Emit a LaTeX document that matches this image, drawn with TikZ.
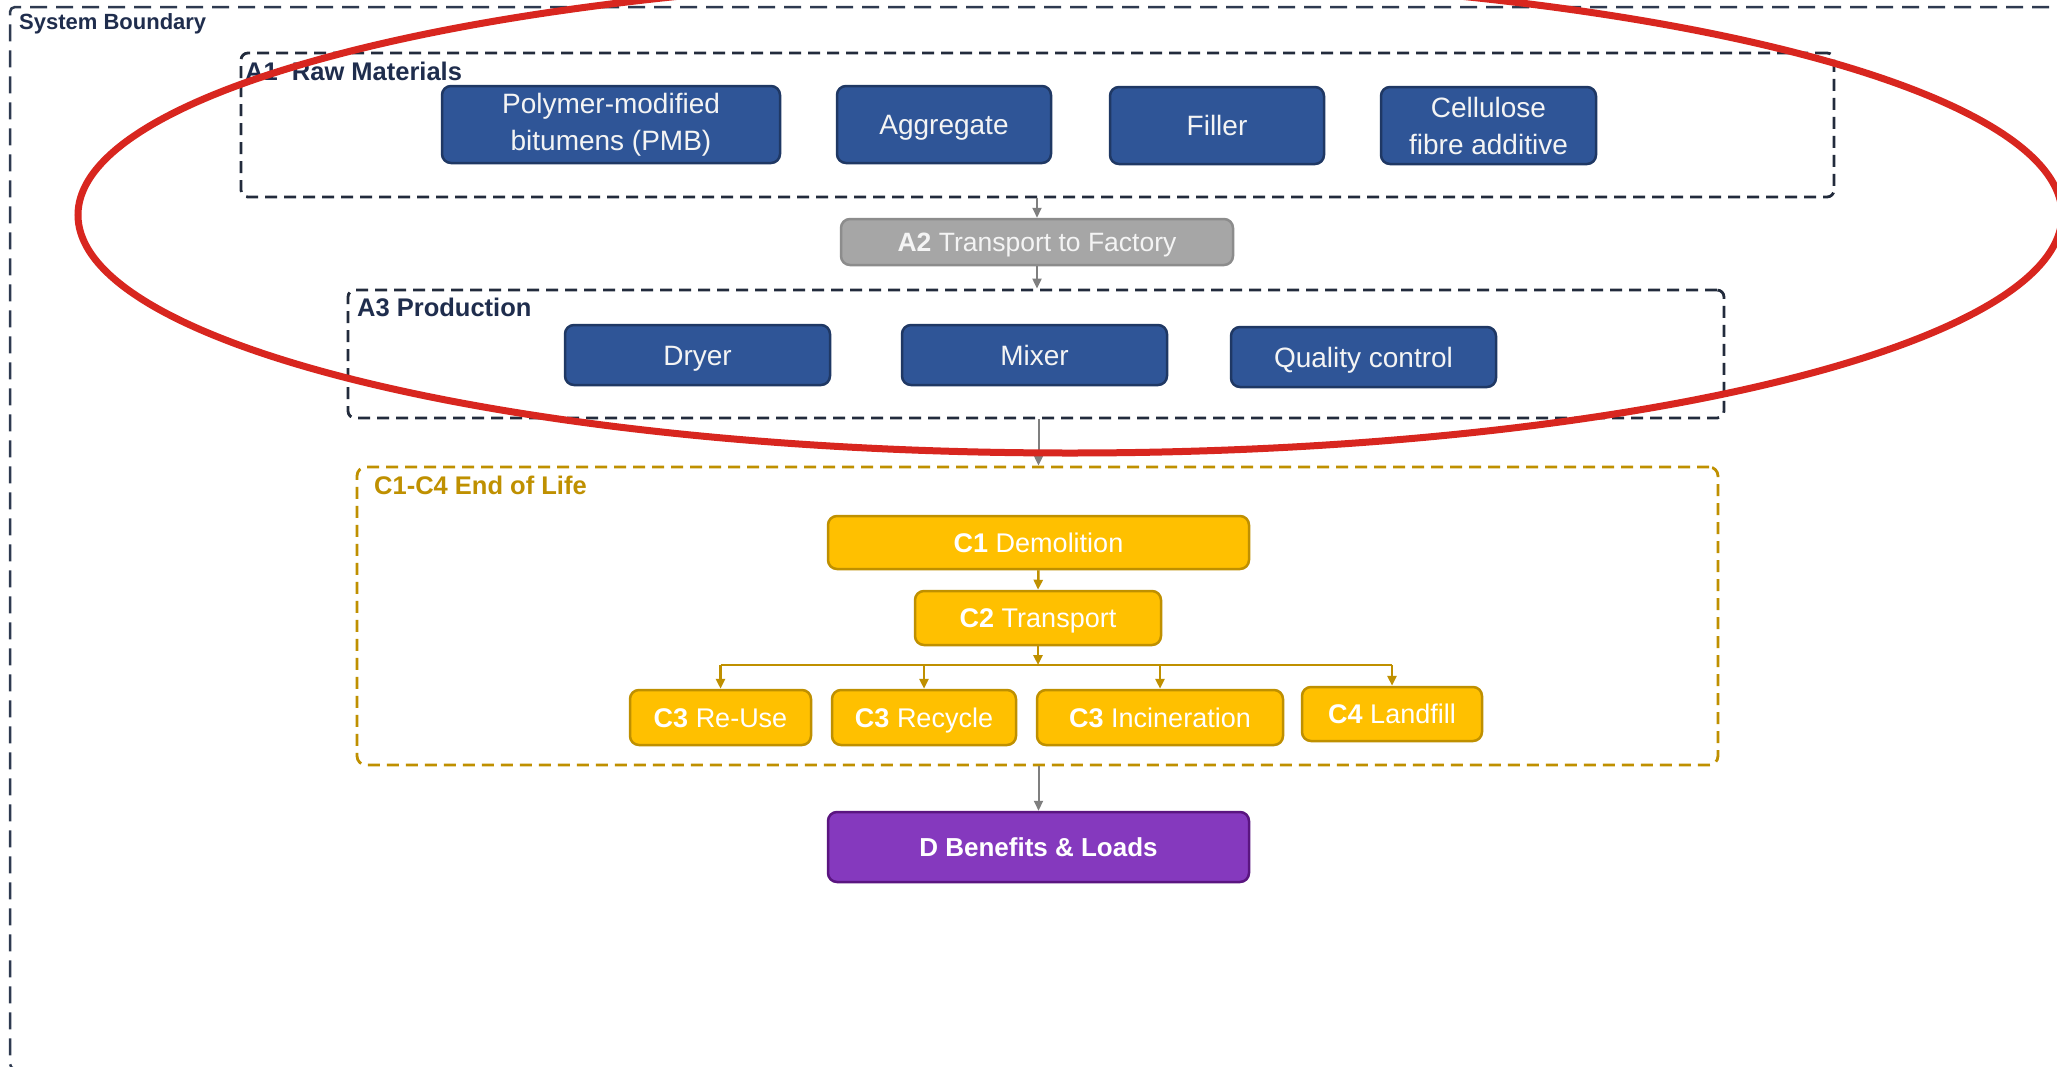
\documentclass[tikz,border=0pt]{standalone}
\usepackage{fontspec}
\setmainfont{Liberation Sans}
\usetikzlibrary{arrows.meta,calc}
\definecolor{navy}{HTML}{2F5597}
\definecolor{navyedge}{HTML}{1F3864}
\definecolor{slate}{HTML}{222B3C}
\definecolor{sbcol}{HTML}{2E3A50}
\definecolor{labnavy}{HTML}{1F2D4D}
\definecolor{gold}{HTML}{BF9000}
\definecolor{amber}{HTML}{FFC000}
\definecolor{gfill}{HTML}{A6A6A6}
\definecolor{gedge}{HTML}{8C8C8C}
\definecolor{garr}{HTML}{7F7F7F}
\definecolor{purp}{HTML}{8539BE}
\definecolor{purpedge}{HTML}{5A1580}
\definecolor{redring}{HTML}{D8261F}
\definecolor{offwhite}{HTML}{F4F4F4}
\begin{document}
\begin{tikzpicture}[x=1pt,y=-1pt,
  box/.style={rounded corners=9pt, line width=2.5pt, inner sep=0pt, align=center,
    font=\fontsize{28}{37}\selectfont},
  oneline/.style={text height=#1, text depth=0pt},
  bluebox/.style={box, fill=navy, draw=navyedge, text=offwhite},
  graybox/.style={box, fill=gfill, draw=gedge, text=offwhite, font=\fontsize{26.5}{32}\selectfont, oneline=19pt},
  ybox/.style={box, fill=amber, draw=gold, text=white, font=\fontsize{27}{32}\selectfont, oneline=19.3pt},
  pbox/.style={box, fill=purp, draw=purpedge, text=white, font=\bfseries\fontsize{26}{32}\selectfont, oneline=18.7pt},
  grp/.style={draw=slate, line width=2.8pt, dash pattern=on 12pt off 7pt, rounded corners=7pt, inner sep=0pt},
  ygrp/.style={draw=gold, line width=2.8pt, dash pattern=on 12pt off 7pt, rounded corners=9pt, inner sep=0pt},
  grplabel/.style={anchor=base west, inner sep=0pt, text=labnavy, font=\bfseries\fontsize{25.5}{30}\selectfont},
  garrow/.style={draw=garr, line width=2pt, -{Triangle[length=10pt,width=9pt]}},
  yarrow/.style={draw=gold, line width=2.5pt, -{Triangle[length=10pt,width=9pt]}},
  yline/.style={draw=gold, line width=2.5pt}
]
\useasboundingbox (0,0) rectangle (2057,1066);
\clip (0,0) rectangle (2057,1066);
\fill[white] (0,0) rectangle (2057,1066);

% system boundary
\node[draw=sbcol, line width=2.5pt, dash pattern=on 17pt off 9pt, rounded corners=5pt,
  minimum width=2070pt, minimum height=1062pt, inner sep=0pt] (sb) at (1045,538) {};
\node[anchor=base west, inner sep=0pt, text=labnavy, font=\bfseries\fontsize{22}{26}\selectfont]
  (sblab) at (19,29) {System Boundary};

% A1
\node[grp, minimum width=1593pt, minimum height=144pt] (A1) at (1037.5,125) {};
\node[grplabel] (A1lab) at (245,80) {A1\ \ Raw Materials};
\node[bluebox, minimum width=338pt, minimum height=77pt] (pmb) at (611,124.5) {Polymer-modified\\bitumens (PMB)};
\node[bluebox, oneline=20pt, minimum width=214pt, minimum height=77pt] (agg) at (944,124.5) {Aggregate};
\node[bluebox, oneline=20pt, minimum width=214pt, minimum height=77pt] (fil) at (1217,125.5) {Filler};
\node[bluebox, minimum width=215pt, minimum height=77pt] (cel) at (1488.5,125.5) {Cellulose\\fibre additive};

% A2
\node[graybox, minimum width=392pt, minimum height=46pt] (A2) at (1037,242) {\textbf{A2} Transport to Factory};

% A3
\node[grp, minimum width=1376pt, minimum height=128pt] (A3) at (1036,354) {};
\node[grplabel] (A3lab) at (357,316) {A3\ Production};
\node[bluebox, oneline=20pt, minimum width=265pt, minimum height=60pt] (dry) at (697.5,355) {Dryer};
\node[bluebox, oneline=20pt, minimum width=265pt, minimum height=60pt] (mix) at (1034.5,355) {Mixer};
\node[bluebox, oneline=20pt, minimum width=265pt, minimum height=60pt] (qc) at (1363.5,357) {Quality control};

% C1-C4
\node[ygrp, minimum width=1361pt, minimum height=298pt] (C) at (1037.5,616) {};
\node[grplabel, text=gold] (Clab) at (374,494) {C1-C4 End of Life};
\node[ybox, minimum width=421pt, minimum height=53pt] (c1) at (1038.5,542.5) {\textbf{C1} Demolition};
\node[ybox, minimum width=246pt, minimum height=54pt] (c2) at (1038,618) {\textbf{C2} Transport};
\node[ybox, minimum width=181pt, minimum height=55pt] (reuse) at (720.5,717.5) {\textbf{C3} Re-Use};
\node[ybox, minimum width=184pt, minimum height=55pt] (recy) at (924,717.5) {\textbf{C3} Recycle};
\node[ybox, minimum width=246pt, minimum height=55pt] (inci) at (1160,717.5) {\textbf{C3} Incineration};
\node[ybox, minimum width=180pt, minimum height=54pt] (land) at (1392,714) {\textbf{C4} Landfill};
\coordinate (br) at (1038,665);

% D
\node[pbox, minimum width=421pt, minimum height=70pt] (D) at (1038.5,847) {D Benefits \& Loads};

% connectors
\draw[garrow] (A2.north |- A1.south) -- (A2.north);
\draw[garrow] (A2.south) -- (A2.south |- A3.north);
\draw[garrow] (c1.north |- A3.south) -- (c1.north |- C.north);
\draw[yarrow] (c1.south) -- (c2.north);
\draw[yarrow] (c2.south) -- (br);
\draw[yline] (reuse.north |- br) -- (land.north |- br);
\draw[yarrow] (reuse.north |- br) -- (reuse.north);
\draw[yarrow] (recy.north |- br) -- (recy.north);
\draw[yarrow] (inci.north |- br) -- (inci.north);
\draw[yarrow] (land.north |- br) -- (land.north);
\draw[garrow] (D.north |- C.south) -- (D.north);

% red ellipse
\draw[redring, line width=7pt] (1070,215) ellipse [x radius=992pt, y radius=238pt];
\end{tikzpicture}
\end{document}
